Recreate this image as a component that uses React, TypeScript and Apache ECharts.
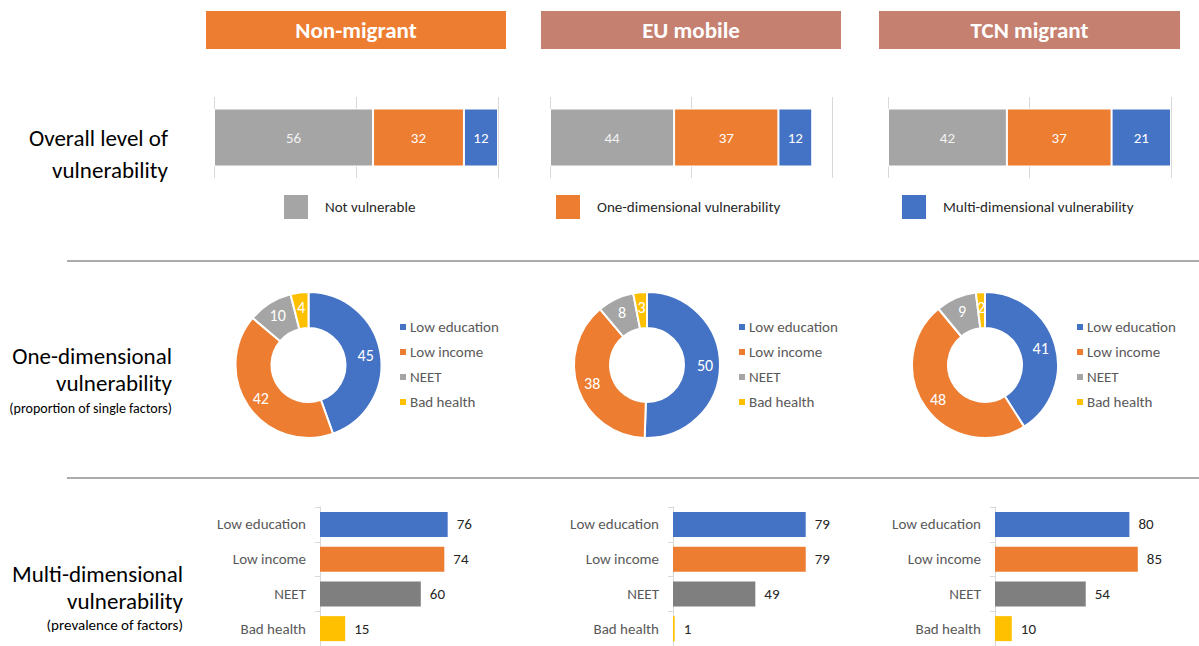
import React, { useEffect, useRef } from "react";
import * as echarts from "echarts";

// ---------- DATA ----------
const groups = ["Non-migrant", "EU mobile", "TCN migrant"];
const overallCategories = [
  "Not vulnerable",
  "One-dimensional vulnerability",
  "Multi-dimensional vulnerability",
];
const overallNonMigrant = [56, 32, 12];
const overallEU = [44, 37, 12];
const overallTCN = [42, 37, 21];

const factors = ["Low education", "Low income", "NEET", "Bad health"];
const oneDimNonMigrant = [45, 42, 10, 4];
const oneDimEU = [50, 38, 8, 3];
const oneDimTCN = [41, 48, 9, 2];

const multiDimNonMigrant = [76, 74, 60, 15];
const multiDimEU = [79, 79, 49, 1];
const multiDimTCN = [80, 85, 54, 10];

const rowTitles = [
  ["Overall level of", "vulnerability"],
  ["One-dimensional", "vulnerability"],
  ["Multi-dimensional", "vulnerability"],
];
const rowSubtitles = ["", "(proportion of single factors)", "(prevalence of factors)"];

// ---------- STYLE / LAYOUT ----------
const FONT = "Carlito, Calibri, Lato, sans-serif";
const BLUE = "#4472C4";
const ORANGE = "#ED7D31";
const GREY = "#A5A5A5";
const YELLOW = "#FFC000";
const DARKGREY = "#7F7F7F";
const SALMON = "#C5806F";

const overallColors = [GREY, ORANGE, BLUE];
const overallLabelColors = ["#F2F2F2", "#FFFFFF", "#FFFFFF"];
const pieColors = [BLUE, ORANGE, GREY, YELLOW];
const multiColors = [BLUE, ORANGE, DARKGREY, YELLOW];

const headerBoxes = [
  { x: 206, w: 300, color: ORANGE },
  { x: 541, w: 300, color: SALMON },
  { x: 879, w: 301, color: SALMON },
];
const row1Grids = [
  { left: 214, width: 284 },
  { left: 550, width: 282 },
  { left: 888, width: 283 },
];
const row1LegendLeft = [282, 554, 900];
const pieCenters = [308.5, 647, 985];
const pieLegendLeft = [398, 737, 1075];
const row3GridLeft = [320, 673, 995];

export default function App() {
  const ref = useRef<HTMLDivElement>(null);

  useEffect(() => {
    if (!ref.current) return;
    const chart = echarts.init(ref.current, undefined, { renderer: "svg" });

    const overall = [overallNonMigrant, overallEU, overallTCN];
    const oneDim = [oneDimNonMigrant, oneDimEU, oneDimTCN];
    const multi = [multiDimNonMigrant, multiDimEU, multiDimTCN];

    const grid: any[] = [];
    const xAxis: any[] = [];
    const yAxis: any[] = [];
    const series: any[] = [];
    const legend: any[] = [];

    // Row 1: stacked bars
    row1Grids.forEach((g, gi) => {
      grid.push({ left: g.left, width: g.width, top: 97, height: 81 });
      xAxis.push({
        type: "value",
        gridIndex: gi,
        min: 0,
        max: 100,
        interval: 50,
        axisLabel: { show: false },
        axisLine: { show: false },
        axisTick: { show: false },
        splitLine: { show: true, lineStyle: { color: "#D9D9D9", width: 1 } },
      });
      yAxis.push({
        type: "category",
        gridIndex: gi,
        data: ["Overall"],
        show: false,
      });
      overallCategories.forEach((cat, ci) => {
        series.push({
          type: "bar",
          name: cat,
          stack: "overall" + gi,
          xAxisIndex: gi,
          yAxisIndex: gi,
          data: [overall[gi][ci]],
          barWidth: 58,
          itemStyle: { color: overallColors[ci], borderColor: "#fff", borderWidth: 1 },
          label: {
            show: true,
            position: "inside",
            color: overallLabelColors[ci],
            fontSize: 15,
            fontFamily: FONT,
          },
          emphasis: { disabled: true },
        });
      });
      legend.push({
        data: [overallCategories[gi]],
        left: row1LegendLeft[gi],
        top: 193,
        padding: 0,
        icon: "rect",
        itemWidth: 26,
        itemHeight: 26,
        selectedMode: false,
        textStyle: {
          fontSize: 15,
          color: "#262626",
          fontFamily: FONT,
          padding: [0, 0, 0, 11],
        },
      });
    });

    // Row 3: horizontal bars
    row3GridLeft.forEach((left, gi) => {
      const idx = 3 + gi;
      grid.push({ left, width: 168, top: 507, height: 143 });
      xAxis.push({
        type: "value",
        gridIndex: idx,
        min: 0,
        max: 100,
        show: false,
        splitLine: { show: false },
      });
      yAxis.push({
        type: "category",
        gridIndex: idx,
        data: factors,
        inverse: true,
        axisLine: { show: true, lineStyle: { color: "#D9D9D9" } },
        axisTick: { show: true, length: 5, lineStyle: { color: "#D9D9D9" } },
        axisLabel: { color: "#595959", fontSize: 15, margin: 14, fontFamily: FONT },
      });
      series.push({
        type: "bar",
        name: "multi-" + groups[gi],
        xAxisIndex: idx,
        yAxisIndex: idx,
        barWidth: 25,
        data: multi[gi].map((v, i) => ({ value: v, itemStyle: { color: multiColors[i] } })),
        label: {
          show: true,
          position: "right",
          distance: 9,
          color: "#262626",
          fontSize: 15,
          fontFamily: FONT,
        },
        emphasis: { disabled: true },
      });
    });

    // Row 2: donuts
    pieCenters.forEach((cx, gi) => {
      series.push({
        type: "pie",
        name: "one-" + groups[gi],
        center: [cx, 365],
        radius: [37, 73],
        startAngle: 90,
        clockwise: true,
        data: factors.map((f, i) => ({
          name: f,
          value: oneDim[gi][i],
          itemStyle: { color: pieColors[i] },
        })),
        label: {
          show: true,
          position: "inside",
          formatter: "{c}",
          color: "#fff",
          fontSize: 16,
          fontFamily: FONT,
        },
        labelLine: { show: false },
        itemStyle: { borderColor: "#fff", borderWidth: 2 },
        emphasis: { disabled: true },
      });
      legend.push({
        data: factors,
        orient: "vertical",
        left: pieLegendLeft[gi],
        top: 318,
        padding: 0,
        icon: "rect",
        itemWidth: 8,
        itemHeight: 8,
        itemGap: 7,
        selectedMode: false,
        textStyle: {
          fontSize: 15,
          color: "#595959",
          fontFamily: FONT,
          lineHeight: 18,
          padding: [0, 0, 0, -2],
        },
      });
    });

    const graphic: any[] = [];
    headerBoxes.forEach((h, i) => {
      graphic.push({
        type: "rect",
        shape: { x: h.x, y: 11, width: h.w, height: 38 },
        style: { fill: h.color },
      });
      graphic.push({
        type: "text",
        x: h.x + h.w / 2,
        y: 30,
        style: {
          text: groups[i],
          fill: "#fff",
          fontSize: 23,
          fontWeight: "bold",
          fontFamily: FONT,
          align: "center",
          verticalAlign: "middle",
        },
      });
    });

    const titleRight = [168, 172, 183];
    const titleY = [
      [138, 170],
      [356, 383],
      [574, 601],
    ];
    const subY = [0, 408, 625];
    const subSize = [0, 14, 15];
    rowTitles.forEach((lines, r) => {
      lines.forEach((t, li) => {
        graphic.push({
          type: "text",
          x: titleRight[r],
          y: titleY[r][li],
          style: {
            text: t,
            fill: "#000",
            fontSize: 23,
            fontFamily: FONT,
            align: "right",
            verticalAlign: "middle",
          },
        });
      });
      if (rowSubtitles[r]) {
        graphic.push({
          type: "text",
          x: titleRight[r],
          y: subY[r],
          style: {
            text: rowSubtitles[r],
            fill: "#000",
            fontSize: subSize[r],
            fontFamily: FONT,
            align: "right",
            verticalAlign: "middle",
          },
        });
      }
    });

    [261, 478].forEach((y) => {
      graphic.push({
        type: "line",
        shape: { x1: 67, y1: y, x2: 1199, y2: y },
        style: { stroke: "#595959", lineWidth: 1 },
      });
    });

    chart.setOption({
      animation: false,
      backgroundColor: "#fff",
      grid,
      xAxis,
      yAxis,
      series,
      legend,
      graphic,
    });

    return () => chart.dispose();
  }, []);

  return (
    <div
      ref={ref}
      style={{ position: "absolute", left: 0, top: 0, width: 1199, height: 646 }}
    />
  );
}
